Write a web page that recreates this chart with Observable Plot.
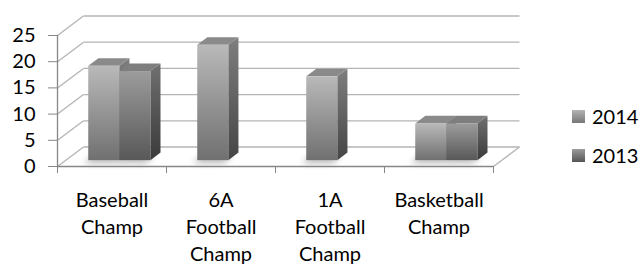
<!DOCTYPE html>
<html>
<head>
<meta charset="utf-8">
<script src="https://cdn.jsdelivr.net/npm/d3@7"></script>
<script src="https://cdn.jsdelivr.net/npm/@observablehq/plot@0.6"></script>
<style>
  html, body { margin: 0; padding: 0; background: #fff; }
  #wrap { position: relative; width: 642px; height: 267px; font-family: Lato, "Open Sans", sans-serif; }
  .leg { position: absolute; left: 572px; display: flex; align-items: center; font-size: 20px; color: #000; }
  .sw { width: 13px; height: 13px; margin-right: 7px; }
</style>
</head>
<body>
<div id="wrap"></div>
<script>
// ---- data ----
const categories = ["Baseball Champ", "6A Football Champ", "1A Football Champ", "Basketball Champ"];
const categoryLabels = ["Baseball\nChamp", "6A\nFootball\nChamp", "1A\nFootball\nChamp", "Basketball\nChamp"];
const seriesNames = ["2014", "2013"];
const values2014 = [18, 22, 16, 7];
const values2013 = [17, null, null, 7];
const yTicks = [0, 5, 10, 15, 20, 25];

// ---- layout / style ----
const W = 642, H = 267;
const mL = 57, mR = 149, mT = 35, mB = 101;
const xDomain = [0, categories.length];
const yDomain = [0, 25];
const pxPerX = (W - mL - mR) / (xDomain[1] - xDomain[0]);
const pxPerY = (H - mT - mB) / (yDomain[1] - yDomain[0]);
// oblique depth of the 3D box, in pixels, converted to data units
const DX = 26 / pxPerX;
const DY = 19.5 / pxPerY;
const barW = 0.285;             // in category units
const groupOff = (1 - 2 * barW) / 2;
const fFront = 0.3, fBack = 0.69; // depth fractions occupied by the bars
const gridColor = "#b4b4b4";
const axisColor = "#868686";

const seriesValues = [values2014, values2013];
const bars = [];
categories.forEach((c, i) => {
  seriesValues.forEach((vals, s) => {
    const v = vals[i];
    if (v == null) return;
    const xl = i + groupOff + s * barW;
    bars.push({cat: c, series: seriesNames[s], s, v, xl, xr: xl + barW});
  });
});

const marks = [];
// back wall gridlines
marks.push(Plot.link(yTicks, {x1: xDomain[0] + DX, x2: xDomain[1] + DX, y1: d => d + DY, y2: d => d + DY, stroke: gridColor, strokeWidth: 1.3}));
// side wall diagonals
marks.push(Plot.link(yTicks, {x1: xDomain[0], x2: xDomain[0] + DX, y1: d => d, y2: d => d + DY, stroke: gridColor, strokeWidth: 1.3}));
// floor right edge
marks.push(Plot.link([0], {x1: xDomain[1], x2: xDomain[1] + DX, y1: d => d, y2: d => d + DY, stroke: gridColor, strokeWidth: 1.3}));

// bar shadows on floor
for (const b of bars) {
  marks.push(Plot.areaX([
    {y: fFront * DY, x1: b.xl + fFront * DX, x2: b.xr + fFront * DX},
    {y: fBack * DY, x1: b.xl + fBack * DX, x2: b.xr + fBack * DX}
  ], {y: "y", x1: "x1", x2: "x2", fill: "#000", fillOpacity: 0.28, dx: -5, dy: 3, imageFilter: "blur(3px)"}));
}

// bars (drawn left to right so right ones cover side faces)
for (const b of bars) {
  const tag = b.series;
  marks.push(Plot.areaY([
    {x: b.xr + fFront * DX, y1: fFront * DY, y2: b.v + fFront * DY},
    {x: b.xr + fBack * DX, y1: fBack * DY, y2: b.v + fBack * DY}
  ], {x: "x", y1: "y1", y2: "y2", fill: `url(#side${tag})`}));
  marks.push(Plot.areaX([
    {y: b.v + fFront * DY, x1: b.xl + fFront * DX, x2: b.xr + fFront * DX},
    {y: b.v + fBack * DY, x1: b.xl + fBack * DX, x2: b.xr + fBack * DX}
  ], {y: "y", x1: "x1", x2: "x2", fill: `url(#top${tag})`}));
  marks.push(Plot.rect([b], {x1: d => d.xl + fFront * DX, x2: d => d.xr + fFront * DX, y1: fFront * DY, y2: d => d.v + fFront * DY, fill: `url(#front${tag})`}));
}

// front axes
marks.push(Plot.ruleY([0], {x1: xDomain[0], x2: xDomain[1], stroke: axisColor, strokeWidth: 1.3}));
marks.push(Plot.ruleX([xDomain[0]], {y1: yDomain[0], y2: yDomain[1], stroke: axisColor, strokeWidth: 1.3}));
marks.push(Plot.axisY({ticks: yTicks, tickSize: 9, tickPadding: 13, stroke: axisColor, fill: "#000", label: null, fontSize: 20}));
marks.push(Plot.axisX({ticks: d3.range(xDomain[0], xDomain[1] + 1), tickSize: 7, tickFormat: () => "", stroke: axisColor, label: null}));
marks.push(Plot.text(categoryLabels, {x: (d, i) => i + 0.5, y: 0, text: d => d, lineAnchor: "top", dy: 21, lineHeight: 1.35, fontSize: 20, fill: "#000"}));

const svg = Plot.plot({
  width: W, height: H,
  marginLeft: mL, marginRight: mR, marginTop: mT, marginBottom: mB,
  x: {domain: xDomain, label: null},
  y: {domain: yDomain, label: null},
  style: {fontFamily: "Lato, 'Open Sans', sans-serif", fontSize: "20px", background: "#fff", overflow: "visible"},
  marks
});

// gradients
const defs = d3.select(svg).insert("defs", ":first-child");
function vgrad(id, top, bottom) {
  const g = defs.append("linearGradient").attr("id", id).attr("x1", 0).attr("y1", 0).attr("x2", 0).attr("y2", 1);
  g.append("stop").attr("offset", "0%").attr("stop-color", top);
  g.append("stop").attr("offset", "100%").attr("stop-color", bottom);
}
vgrad("front2014", "#b9b9b9", "#707070");
vgrad("front2013", "#9c9c9c", "#585858");
vgrad("side2014", "#7e7e7e", "#454545");
vgrad("side2013", "#707070", "#3a3a3a");
vgrad("top2014", "#8a8a8a", "#8a8a8a");
vgrad("top2013", "#7e7e7e", "#7e7e7e");

const wrap = document.getElementById("wrap");
wrap.appendChild(svg);

// legend (to the right)
const legendCenters = [117, 156];
seriesNames.forEach((name, k) => {
  const row = document.createElement("div");
  row.className = "leg";
  row.style.top = (legendCenters[k] - 13) + "px";
  const sw = document.createElement("div");
  sw.className = "sw";
  sw.style.background = k === 0 ? "linear-gradient(#b4b4b4, #777777)" : "linear-gradient(#9c9c9c, #555555)";
  const tx = document.createElement("span");
  tx.textContent = name;
  row.appendChild(sw); row.appendChild(tx);
  wrap.appendChild(row);
});
</script>
</body>
</html>
